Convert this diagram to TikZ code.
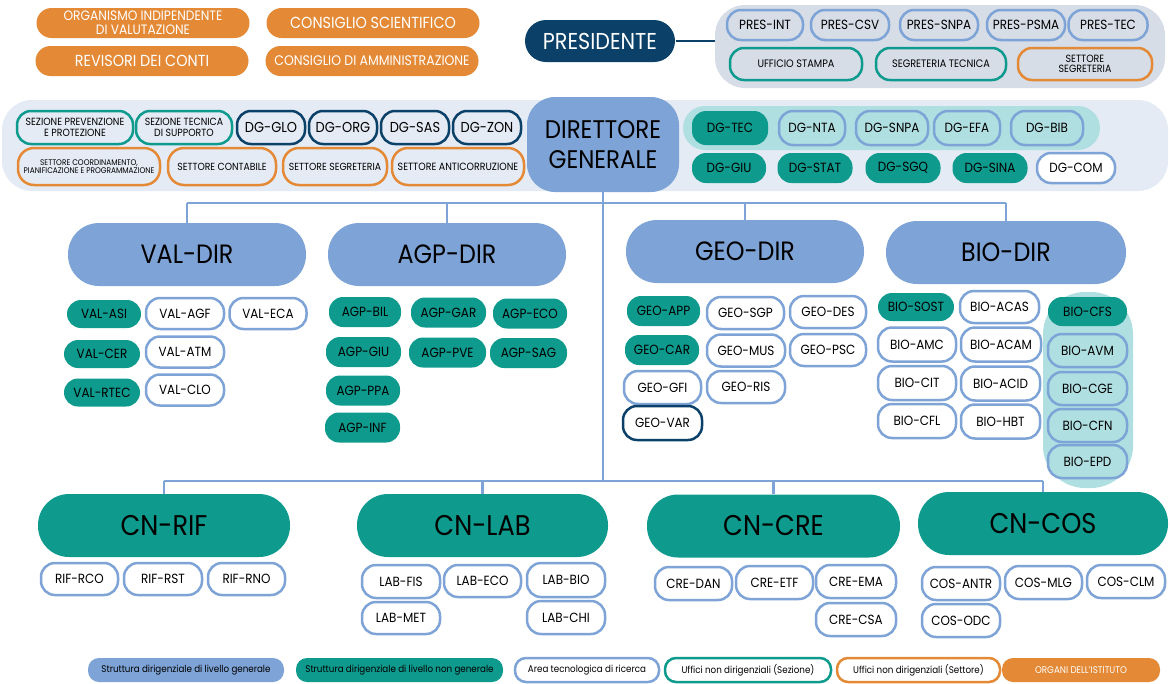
\documentclass[tikz,border=0pt]{standalone}
\usepackage{fontspec}
\setmainfont{Poppins}[FakeStretch=0.9]
\usetikzlibrary{positioning}
\definecolor{genblue}{HTML}{7EA3D6}
\definecolor{ngteal}{HTML}{0E9A8D}
\definecolor{dgnavy}{HTML}{0B4168}
\definecolor{orgorange}{HTML}{E48A36}
\definecolor{presgray}{HTML}{D6DDE7}
\definecolor{bandblue}{HTML}{E4EBF5}
\definecolor{lightteal}{HTML}{B0DFE1}
\tikzset{
  fs/.style={font=\fontsize{#1}{#1}\selectfont},
  pill/.style={rectangle, rounded corners=14pt, minimum width=76pt, minimum height=30pt,
    inner sep=0pt, align=center, line width=2.5pt, fs=13.3},
  ngen/.style={pill, fill=ngteal},
  area/.style={pill, draw=genblue, fill=white},
  areaT/.style={pill, draw=genblue},
  sez/.style={pill, draw=ngteal},
  sett/.style={pill, draw=orgorange},
  dgn/.style={pill, draw=dgnavy},
  organo/.style={pill, fill=orgorange, text=white, minimum width=213pt, rounded corners=15pt},
  gen/.style={rectangle, rounded corners=31pt, minimum width=238pt, minimum height=63pt,
    inner sep=0pt, align=center, fill=genblue, fs=26.5},
  cn/.style={gen, fill=ngteal, minimum width=252pt, fs=28.5},
  panel/.style={rectangle, inner sep=0pt},
  bus/.style={draw=genblue, line width=2.5pt},
}

\begin{document}
\begin{tikzpicture}[x=1pt, y=-1pt]
    \useasboundingbox[fill=white] (0,0) rectangle (1170,683);

    % organi dell'istituto
    \node[organo, fs=13.6] (OIV) at (143,23) {ORGANISMO INDIPENDENTE\\DI VALUTAZIONE};
    \node[organo, fs=16] (RDC) at (142,61) {REVISORI DEI CONTI};
    \node[organo, fs=16] (CSC) at (373,23) {CONSIGLIO SCIENTIFICO};
    \node[organo, fs=13.9] (CDA) at (372,61) {CONSIGLIO DI AMMINISTRAZIONE};

    % presidente
    \node[panel, fill=presgray, rounded corners=30pt, minimum width=450pt, minimum height=83pt] (PRES_P) at (940,46.5) {};
    \node[pill, fill=dgnavy, text=white, minimum width=150pt, minimum height=42pt, rounded corners=21pt, fs=23] (PRES) at (600,41) {PRESIDENTE};
    \node[areaT] (PRES_INT) at (765,25) {PRES-INT};
    \node[areaT, minimum width=78pt] (PRES_CSV) at (850,25) {PRES-CSV};
    \node[areaT, minimum width=78pt] (PRES_SNPA) at (939,25) {PRES-SNPA};
    \node[areaT, minimum width=78pt] (PRES_PSMA) at (1026,25) {PRES-PSMA};
    \node[areaT, minimum width=79pt] (PRES_TEC) at (1108,25) {PRES-TEC};
    \node[sez, minimum width=132pt, minimum height=32pt, fs=10.8] (UST) at (796,64) {UFFICIO STAMPA};
    \node[sez, minimum width=130pt, minimum height=32pt, fs=10.8] (SGT) at (941,64) {SEGRETERIA TECNICA};
    \node[sett, minimum width=134pt, minimum height=32pt, fs=10.5] (SSG) at (1085,64) {SETTORE\\SEGRETERIA};
    \draw[dgnavy, line width=2.5pt] (PRES.east) -- (PRES.east -| PRES_P.west);

    % direttore generale
    \node[panel, fill=bandblue, rounded corners=30pt, minimum width=1166pt, minimum height=91pt] (DG_P) at (585,145.5) {};
    \node[panel, fill=lightteal, rounded corners=22pt, minimum width=417pt, minimum height=44pt] (DGT_P) at (891.5,128) {};
    \node[gen, minimum width=152pt, minimum height=95pt, rounded corners=28pt, fs=25.5] (DG) at (603,144.5) {DIRETTORE\\[5pt]GENERALE};

    \node[sez, minimum width=116pt, minimum height=33pt, fs=10.4] (SPP) at (75,127.5) {SEZIONE PREVENZIONE\\E PROTEZIONE};
    \node[sez, minimum width=96pt, minimum height=33pt, fs=10.4] (STS) at (184,127.5) {SEZIONE TECNICA\\DI SUPPORTO};
    \node[dgn, minimum width=68pt, minimum height=33pt, fs=14.4] (DG_GLO) at (271,127.5) {DG-GLO};
    \node[dgn, minimum width=68pt, minimum height=33pt, fs=14.4] (DG_ORG) at (343,127.5) {DG-ORG};
    \node[dgn, minimum width=68pt, minimum height=33pt, fs=14.4] (DG_SAS) at (415,127.5) {DG-SAS};
    \node[dgn, minimum width=68pt, minimum height=33pt, fs=14.4] (DG_ZON) at (487,127.5) {DG-ZON};
    \node[sett, minimum width=142pt, minimum height=37pt, rounded corners=16pt, fs=8.2] (SCPP) at (89,166.5) {SETTORE COORDINAMENTO,\\PIANIFICAZIONE E PROGRAMMAZIONE};
    \node[sett, minimum width=108pt, minimum height=37pt, rounded corners=16pt, fs=10.3] (SCO) at (222,166.5) {SETTORE CONTABILE};
    \node[sett, minimum width=104pt, minimum height=37pt, rounded corners=16pt, fs=10.3] (SSE) at (335,166.5) {SETTORE SEGRETERIA};
    \node[sett, minimum width=132pt, minimum height=37pt, rounded corners=16pt, fs=10.5] (SAC) at (458,166.5) {SETTORE ANTICORRUZIONE};

    \node[ngen, minimum height=34pt] (DG_TEC) at (730,128) {DG-TEC};
    \node[areaT, minimum width=66pt, minimum height=34pt] (DG_NTA) at (812,128) {DG-NTA};
    \node[areaT, minimum width=72pt, minimum height=34pt] (DG_SNPA) at (892,128) {DG-SNPA};
    \node[areaT, minimum width=66pt, minimum height=34pt] (DG_EFA) at (967,128) {DG-EFA};
    \node[areaT, minimum width=72pt, minimum height=34pt] (DG_BIB) at (1047,128) {DG-BIB};
    \node[ngen, minimum width=74pt] (DG_GIU) at (729,168) {DG-GIU};
    \node[ngen, minimum width=75pt] (DG_STAT) at (815,168) {DG-STAT};
    \node[ngen, minimum width=75pt] (DG_SGQ) at (903,168) {DG-SGQ};
    \node[ngen, minimum width=75pt] (DG_SINA) at (990,168) {DG-SINA};
    \node[area, minimum width=78pt] (DG_COM) at (1076,168) {DG-COM};

    % direzioni
    \node[gen] (VAL_DIR) at (187,254.5) {VAL-DIR};
    \node[gen] (AGP_DIR) at (447,254.5) {AGP-DIR};
    \node[gen] (GEO_DIR) at (745,251.5) {GEO-DIR};
    \node[gen, minimum width=240pt] (BIO_DIR) at (1006,252.5) {BIO-DIR};

    \node[ngen, minimum width=74pt, minimum height=28pt] (VAL_ASI) at (104,314) {VAL-ASI};
    \node[area, minimum width=78pt, minimum height=31pt] (VAL_AGF) at (185,313.5) {VAL-AGF};
    \node[area, minimum width=77pt, minimum height=31pt] (VAL_ECA) at (268,313.5) {VAL-ECA};
    \node[ngen, minimum height=28pt] (VAL_CER) at (102,354) {VAL-CER};
    \node[area, minimum width=78pt, minimum height=31pt] (VAL_ATM) at (185,352) {VAL-ATM};
    \node[ngen, minimum height=28pt] (VAL_RTEC) at (102,392.5) {VAL-RTEC};
    \node[area, minimum width=78pt, minimum height=31pt] (VAL_CLO) at (185,390) {VAL-CLO};

    \node[ngen, minimum width=72pt] (AGP_BIL) at (365,312) {AGP-BIL};
    \node[ngen, minimum width=75pt] (AGP_GAR) at (448.5,312.5) {AGP-GAR};
    \node[ngen, minimum width=74pt] (AGP_ECO) at (530,313.5) {AGP-ECO};
    \node[ngen, minimum width=75pt] (AGP_GIU) at (363.5,352) {AGP-GIU};
    \node[ngen, minimum width=77pt] (AGP_PVE) at (447.5,352.5) {AGP-PVE};
    \node[ngen, minimum width=77pt] (AGP_SAG) at (528.5,353) {AGP-SAG};
    \node[ngen, minimum width=74pt] (AGP_PPA) at (363,390.5) {AGP-PPA};
    \node[ngen, minimum width=75pt] (AGP_INF) at (362.5,427.5) {AGP-INF};

    \node[ngen, minimum width=73pt] (GEO_APP) at (663.5,311) {GEO-APP};
    \node[area, minimum width=77pt, minimum height=32pt] (GEO_SGP) at (745.5,313) {GEO-SGP};
    \node[area, minimum height=32pt] (GEO_DES) at (828,312) {GEO-DES};
    \node[ngen, minimum width=74pt] (GEO_CAR) at (662,350) {GEO-CAR};
    \node[area, minimum width=78pt, minimum height=32pt] (GEO_MUS) at (746,350.5) {GEO-MUS};
    \node[area, minimum height=32pt] (GEO_PSC) at (828,350) {GEO-PSC};
    \node[area, minimum width=77pt, minimum height=33pt] (GEO_GFI) at (662.5,387.5) {GEO-GFI};
    \node[area, minimum width=78pt, minimum height=32pt] (GEO_RIS) at (746,387) {GEO-RIS};
    \node[dgn, fill=white, minimum width=79pt, minimum height=34pt] (GEO_VAR) at (662.5,423) {GEO-VAR};

    \node[panel, fill=lightteal, rounded corners=42pt, minimum width=90pt, minimum height=196pt] (BIO_P) at (1088,390) {};
    \node[ngen, minimum height=28pt] (BIO_SOST) at (916,307) {BIO-SOST};
    \node[area, minimum width=79pt, minimum height=32pt] (BIO_ACAS) at (999.5,307) {BIO-ACAS};
    \node[area, minimum width=78pt, minimum height=34pt] (BIO_AMC) at (917,344.5) {BIO-AMC};
    \node[area, minimum width=80pt, minimum height=34pt] (BIO_ACAM) at (1001,344.5) {BIO-ACAM};
    \node[area, minimum width=78pt, minimum height=34pt] (BIO_CIT) at (917,383) {BIO-CIT};
    \node[area, minimum width=79pt, minimum height=34pt] (BIO_ACID) at (1000.5,383.5) {BIO-ACID};
    \node[area, minimum width=78pt, minimum height=34pt] (BIO_CFL) at (917,421) {BIO-CFL};
    \node[area, minimum width=79pt, minimum height=34pt] (BIO_HBT) at (1000.5,421.5) {BIO-HBT};
    \node[ngen, minimum width=79pt, minimum height=29pt] (BIO_CFS) at (1087.5,311.5) {BIO-CFS};
    \node[areaT, minimum width=79pt, minimum height=33pt] (BIO_AVM) at (1087.5,350.5) {BIO-AVM};
    \node[areaT, minimum width=79pt, minimum height=33pt] (BIO_CGE) at (1087.5,388.5) {BIO-CGE};
    \node[areaT, minimum width=79pt, minimum height=33pt] (BIO_CFN) at (1087.5,425.5) {BIO-CFN};
    \node[areaT, minimum width=79pt, minimum height=33pt] (BIO_EPD) at (1087.5,461.5) {BIO-EPD};

    % centri nazionali
    \node[cn] (CN_RIF) at (164,525.5) {CN-RIF};
    \node[cn, minimum width=251pt] (CN_LAB) at (482.5,525.5) {CN-LAB};
    \node[cn, minimum width=253pt] (CN_CRE) at (773.5,526) {CN-CRE};
    \node[cn, minimum width=250pt] (CN_COS) at (1043,523.5) {CN-COS};

    \node[area, minimum width=77pt, minimum height=32pt] (RIF_RCO) at (79.5,579) {RIF-RCO};
    \node[area, minimum width=78pt, minimum height=32pt] (RIF_RST) at (163,579) {RIF-RST};
    \node[area, minimum width=77pt, minimum height=32pt] (RIF_RNO) at (246.5,579) {RIF-RNO};
    \node[area, minimum width=78pt, minimum height=33pt] (LAB_FIS) at (401,581.5) {LAB-FIS};
    \node[area, minimum width=77pt, minimum height=32pt] (LAB_ECO) at (482.5,581) {LAB-ECO};
    \node[area, minimum width=78pt, minimum height=34pt] (LAB_BIO) at (566,580) {LAB-BIO};
    \node[area, minimum width=78pt, minimum height=32pt] (LAB_MET) at (401,618) {LAB-MET};
    \node[area, minimum width=78pt, minimum height=33pt] (LAB_CHI) at (566,617.5) {LAB-CHI};
    \node[area, minimum width=77pt, minimum height=33pt] (CRE_DAN) at (693.5,583.5) {CRE-DAN};
    \node[area, minimum width=77pt, minimum height=33pt] (CRE_ETF) at (774.5,582.5) {CRE-ETF};
    \node[area, minimum width=80pt, minimum height=33pt] (CRE_EMA) at (856,581.5) {CRE-EMA};
    \node[area, minimum width=80pt, minimum height=33pt] (CRE_CSA) at (856,619.5) {CRE-CSA};
    \node[area, minimum width=78pt, minimum height=33pt] (COS_ANTR) at (961,583.5) {COS-ANTR};
    \node[area, minimum width=77pt, minimum height=33pt] (COS_MLG) at (1043.5,582.5) {COS-MLG};
    \node[area, minimum width=78pt, minimum height=33pt] (COS_CLM) at (1126,581.5) {COS-CLM};
    \node[area, minimum width=78pt, minimum height=33pt] (COS_ODC) at (961,620.5) {COS-ODC};

    % collegamenti
    \coordinate (topbus) at (603,203);
    \coordinate (botbus) at (603,481);
    \draw[bus] (DG.south) -- (botbus);
    \draw[bus] (VAL_DIR.north |- topbus) -- (BIO_DIR.north |- topbus);
    \draw[bus] (VAL_DIR.north |- topbus) -- (VAL_DIR.north);
    \draw[bus] (AGP_DIR.north |- topbus) -- (AGP_DIR.north);
    \draw[bus] (GEO_DIR.north |- topbus) -- (GEO_DIR.north);
    \draw[bus] (BIO_DIR.north |- topbus) -- (BIO_DIR.north);
    \draw[bus] (CN_RIF.north |- botbus) -- (CN_COS.north |- botbus);
    \draw[bus] (CN_RIF.north |- botbus) -- (CN_RIF.north);
    \draw[bus] (CN_LAB.north |- botbus) -- (CN_LAB.north);
    \draw[bus] (CN_CRE.north |- botbus) -- (CN_CRE.north);
    \draw[bus] (CN_COS.north |- botbus) -- (CN_COS.north);

    % legenda
    \node[pill, fill=genblue, minimum width=196pt, minimum height=24pt, rounded corners=11pt, fs=9.7] (L_GEN) at (186,670) {Struttura dirigenziale di livello generale};
    \node[ngen, minimum width=207pt, minimum height=24pt, rounded corners=11pt, fs=9.7] (L_NGEN) at (399.5,670) {Struttura dirigenziale di livello non generale};
    \node[area, minimum width=144pt, minimum height=24pt, rounded corners=11pt, fs=9.7] (L_AREA) at (587,670) {Area tecnologica di ricerca};
    \node[sez, minimum width=166pt, minimum height=24pt, rounded corners=11pt, fs=9.7] (L_SEZ) at (748,670) {Uffici non dirigenziali (Sezione)};
    \node[sett, minimum width=163pt, minimum height=24pt, rounded corners=11pt, fs=9.7] (L_SETT) at (918.5,670) {Uffici non dirigenziali (Settore)};
    \node[organo, minimum width=158pt, minimum height=24pt, rounded corners=11pt, fs=9.7] (L_ORG) at (1081,670) {ORGANI DELL'ISTITUTO};
\end{tikzpicture}
\end{document}
